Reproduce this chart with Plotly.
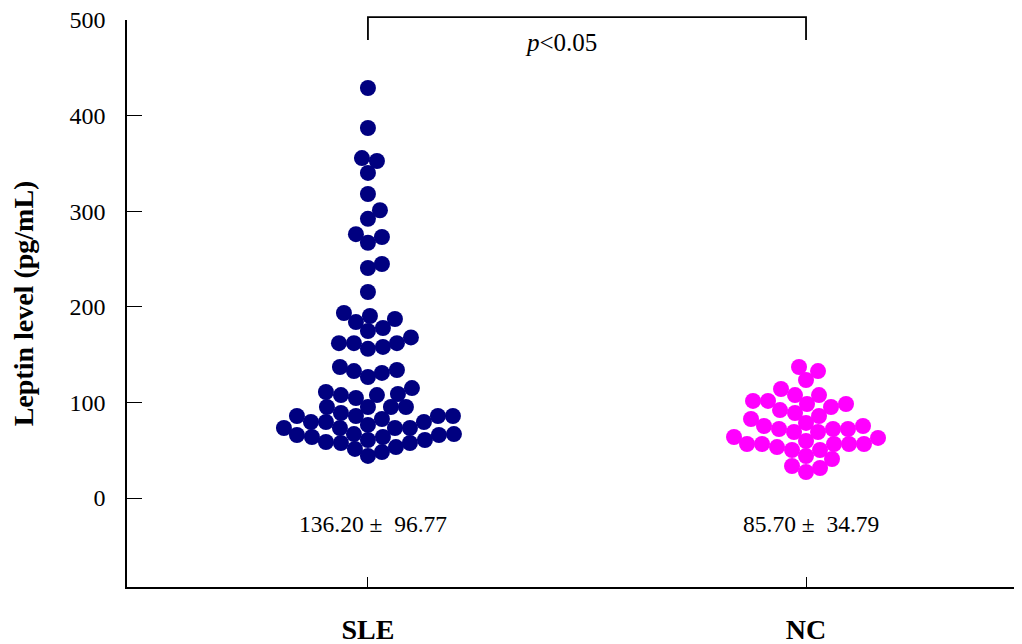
import plotly.graph_objects as go

# ---------------- data ----------------
categories = ["SLE", "NC"]

sle_values = [
    428.9, 387.0, 352.5, 355.6, 340.0, 318.0, 301.0, 292.0, 276.0, 273.0, 267.0,
    240.6, 244.8, 215.5,
    193.5, 190.4, 187.2, 184.0,
    174.7, 177.8,
    162.0, 162.0, 156.0, 162.0, 168.0, 158.0,
    130.8, 132.8, 133.9, 126.6, 137.0,
    108.8, 107.7, 115.0, 104.6, 107.7, 110.9,
    95.2, 95.2, 85.8, 79.5, 79.5,
    85.8, 85.8, 85.8, 88.9, 95.2, 95.2,
    73.2, 73.2, 76.4, 73.2, 82.6, 79.5, 73.2,
    57.5, 63.8, 60.7, 57.5, 60.7, 63.8, 65.9, 58.6, 66.9, 65.9, 66.9,
    48.0, 44.0, 51.3, 53.3,
]

nc_values = [
    137.0, 132.8, 123.4, 114.0, 107.7, 107.7,
    98.3, 101.5, 98.3, 101.5,
    88.9, 92.0, 95.2, 82.6, 85.8,
    75.3, 72.2, 78.5, 69.0, 72.2, 75.3, 72.2, 69.0,
    63.8, 53.3, 56.5, 56.5, 56.5, 59.6, 56.5, 62.8, 56.5,
    50.2, 50.2, 40.8, 43.9, 27.2, 31.4, 33.5,
]

stats_labels = ["136.20 \u00b1  96.77", "85.70 \u00b1  34.79"]
p_label = "<i>p</i>&lt;0.05"
y_title = "Leptin level (pg/mL)"
y_tick_values = [0, 100, 200, 300, 400, 500]

# ---------------- layout geometry ----------------
# the page body adds an 8px offset, so the figure is 8px smaller and margins shifted
W, H = 1014, 636
M = dict(l=119, r=0, t=12, b=57)
Y_RANGE = [-93.1, 500]
X_RANGE = [-0.55, 1.493]
plot_w = W - M["l"] - M["r"]
plot_h = H - M["t"] - M["b"]
px_per_x = plot_w / (X_RANGE[1] - X_RANGE[0])
px_per_y = plot_h / (Y_RANGE[1] - Y_RANGE[0])

MARKER = 16
MIN_DIST = 14.5


def beeswarm(values):
    """Deterministic swarm: horizontal pixel offset closest to centre without collisions."""
    placed = []
    result = [0.0] * len(values)
    order = sorted(range(len(values)), key=lambda i: values[i])
    cand = [0]
    for k in range(1, 400):
        cand += [k, -k]
    for i in order:
        y = values[i] * px_per_y
        for off in cand:
            if all((off - px) ** 2 + (y - py) ** 2 >= MIN_DIST ** 2 for px, py in placed):
                break
        placed.append((off, y))
        result[i] = off / px_per_x
    return result


def ypaper(v):
    return (v - Y_RANGE[0]) / (Y_RANGE[1] - Y_RANGE[0])


colors = ["#000080", "#FF00FF"]
series = [sle_values, nc_values]

fig = go.Figure()
for ci, (vals, col) in enumerate(zip(series, colors)):
    offs = beeswarm(vals)
    fig.add_trace(go.Scatter(
        x=[ci + o for o in offs], y=vals, mode="markers",
        marker=dict(size=MARKER, color=col, line=dict(width=0)),
        showlegend=False, hoverinfo="y", cliponaxis=False,
    ))

FONT = "Liberation Serif, Times New Roman, serif"

# significance bracket
fig.add_shape(type="path", xref="x", yref="paper",
              path=f"M 0 {ypaper(479)} L 0 {ypaper(503)} L 1 {ypaper(503)} L 1 {ypaper(479)}",
              line=dict(color="black", width=1.8))
fig.add_annotation(x=0.44, y=476, xref="x", yref="y", text=p_label, showarrow=False,
                   font=dict(family=FONT, size=25, color="black"))

for ci, txt in enumerate(stats_labels):
    fig.add_annotation(x=ci, y=-27, xref="x", yref="y", text=txt, showarrow=False,
                       xshift=5, font=dict(family=FONT, size=23.5, color="black"))

fig.update_layout(
    width=W, height=H, margin=M,
    paper_bgcolor="white", plot_bgcolor="white",
    font=dict(family=FONT, color="black"),
    xaxis=dict(range=X_RANGE, tickvals=[0, 1], ticktext=categories,
               ticks="inside", ticklen=10, tickwidth=1, tickcolor="black",
               showline=True, linecolor="black", linewidth=1.5,
               showgrid=False, zeroline=False, ticklabelstandoff=17,
               automargin=False, ticklabeloverflow="allow",
               tickfont=dict(family=FONT, size=28, color="black", weight="bold")),
    yaxis=dict(range=Y_RANGE, tickvals=y_tick_values,
               ticks="inside", ticklen=15, tickwidth=1, tickcolor="black",
               showline=True, linecolor="black", linewidth=1.5,
               showgrid=False, zeroline=False, ticklabelstandoff=15,
               automargin=False, ticklabeloverflow="allow",
               tickfont=dict(family=FONT, size=24, color="black"),
               title=dict(text=y_title, standoff=34,
                          font=dict(family=FONT, size=28, color="black", weight="bold"))),
)

fig.write_html("out.html")
